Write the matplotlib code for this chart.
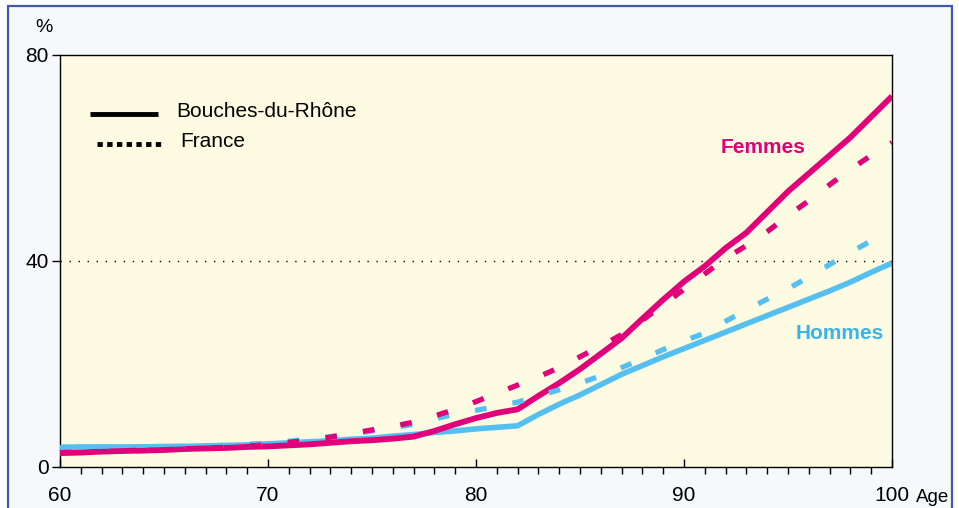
import matplotlib
matplotlib.use("Agg")
import matplotlib.pyplot as plt
from matplotlib.lines import Line2D
from matplotlib.patches import Rectangle

plt.rcParams['font.family'] = ['Liberation Sans', 'DejaVu Sans']

ages = list(range(60, 101))

femmes_bdr = [2.7, 2.8, 3.0, 3.1, 3.2, 3.3, 3.5, 3.6, 3.7, 3.9,
              4.0, 4.2, 4.4, 4.7, 5.0, 5.2, 5.5, 5.9, 7.0, 8.3,
              9.5, 10.5, 11.2, 13.8, 16.3, 19.0, 22.0, 25.0, 28.8, 32.5,
              36.0, 39.0, 42.5, 45.5, 49.5, 53.5, 57.0, 60.5, 64.0, 68.0, 72.0]
femmes_fr = [2.8, 2.9, 3.0, 3.1, 3.2, 3.3, 3.5, 3.7, 3.8, 4.1,
             4.3, 4.8, 5.2, 5.8, 6.5, 7.2, 7.9, 8.7, 9.9, 11.2,
             12.7, 14.3, 15.9, 17.5, 19.3, 21.4, 23.5, 25.7, 28.5, 31.5,
             34.5, 37.5, 40.5, 43.0, 45.7, 48.8, 51.7, 54.8, 57.8, 60.5, 63.0]
hommes_bdr = [3.8, 3.9, 3.9, 3.9, 3.9, 4.0, 4.0, 4.1, 4.2, 4.3,
              4.5, 4.7, 4.9, 5.1, 5.4, 5.6, 6.0, 6.3, 6.7, 7.0,
              7.4, 7.7, 8.0, 10.2, 12.2, 14.0, 16.0, 18.0, 19.7, 21.4,
              23.0, 24.6, 26.2, 27.8, 29.4, 31.0, 32.6, 34.2, 35.9, 37.8, 39.6]
hommes_fr = [3.8, 3.9, 3.9, 3.9, 3.9, 4.0, 4.0, 4.1, 4.2, 4.4,
             4.6, 5.0, 5.4, 5.9, 6.4, 7.0, 7.6, 8.3, 9.3, 10.3,
             11.0, 11.8, 12.6, 13.8, 15.0, 16.3, 17.7, 19.3, 21.0, 22.8,
             24.5, 26.0, 28.3, 30.5, 32.6, 34.6, 36.9, 39.3, 41.7, 43.9, 45.5]

x_major = [60, 70, 80, 90, 100]
y_major = [0, 40, 80]

MAG = '#e2007a'
BLUE = '#55bff0'

fig = plt.figure(figsize=(9.59, 5.08), dpi=100)
fig.patch.set_facecolor('white')
frame = Rectangle((8/959, -0.1), (952-8)/959, 1.1 - 6/508,
                  transform=fig.transFigure, facecolor='#f7f8fa',
                  edgecolor='#3d5aad', linewidth=1.6, zorder=-10)
fig.patches.append(frame)

ax = fig.add_axes([60/959, 41/508, 832/959, 412/508])
ax.set_zorder(5)
ax.set_facecolor('#fdfbe2')
ax.set_xlim(60, 100)
ax.set_ylim(0, 80)

ax.axhline(40, color='black', lw=1.0, linestyle=(0, (1, 5.5)), zorder=1)

ax.plot(ages, hommes_bdr, color=BLUE, lw=4.0, solid_capstyle='butt', zorder=2)
ax.plot(ages, femmes_bdr, color=MAG, lw=4.2, solid_capstyle='butt', zorder=3)
ax.plot(ages, hommes_fr, color=BLUE, lw=3.8, linestyle=(0, (2.2, 5.0)), zorder=4)
ax.plot(ages, femmes_fr, color=MAG, lw=3.8, linestyle=(0, (2.2, 5.0)), zorder=5)

ax.set_xticks(x_major)
ax.set_xticks(ages, minor=True)
ax.set_yticks(y_major)
ax.set_xticklabels([str(v) for v in x_major])
ax.set_yticklabels([str(v) for v in y_major])
ax.tick_params(axis='x', which='major', direction='in', length=6, width=1,
               labelsize=15, pad=14)
ax.tick_params(axis='x', which='minor', direction='out', length=5, width=1)
ax.tick_params(axis='y', which='major', direction='out', length=6, width=1,
               labelsize=15, pad=2)
for s in ax.spines.values():
    s.set_color('black')
    s.set_linewidth(1.0)

# legend
ax.add_line(Line2D([0.036, 0.118], [0.857, 0.857], transform=ax.transAxes,
                   color='black', lw=3.5, solid_capstyle='butt'))
ax.add_line(Line2D([0.044, 0.126], [0.785, 0.785], transform=ax.transAxes,
                   color='black', lw=3.5, linestyle=(0, (1.1, 0.9))))
ax.text(0.140, 0.862, 'Bouches-du-Rhône', transform=ax.transAxes,
        fontsize=15, va='center', ha='left')
ax.text(0.145, 0.790, 'France', transform=ax.transAxes,
        fontsize=15, va='center', ha='left')

ax.text(93.8, 62.0, 'Femmes', color=MAG, fontsize=15, fontweight='bold',
        ha='center', va='center')
ax.text(97.5, 26.0, 'Hommes', color='#3ab4ea', fontsize=15, fontweight='bold',
        ha='center', va='center')

fig.text(44/959, 1 - 28/508, '%', fontsize=14, ha='center', va='center')
fig.text(933/959, 1 - 497/508, 'Age', fontsize=13.5, ha='center', va='center')

fig.savefig('out.png', dpi=100)
